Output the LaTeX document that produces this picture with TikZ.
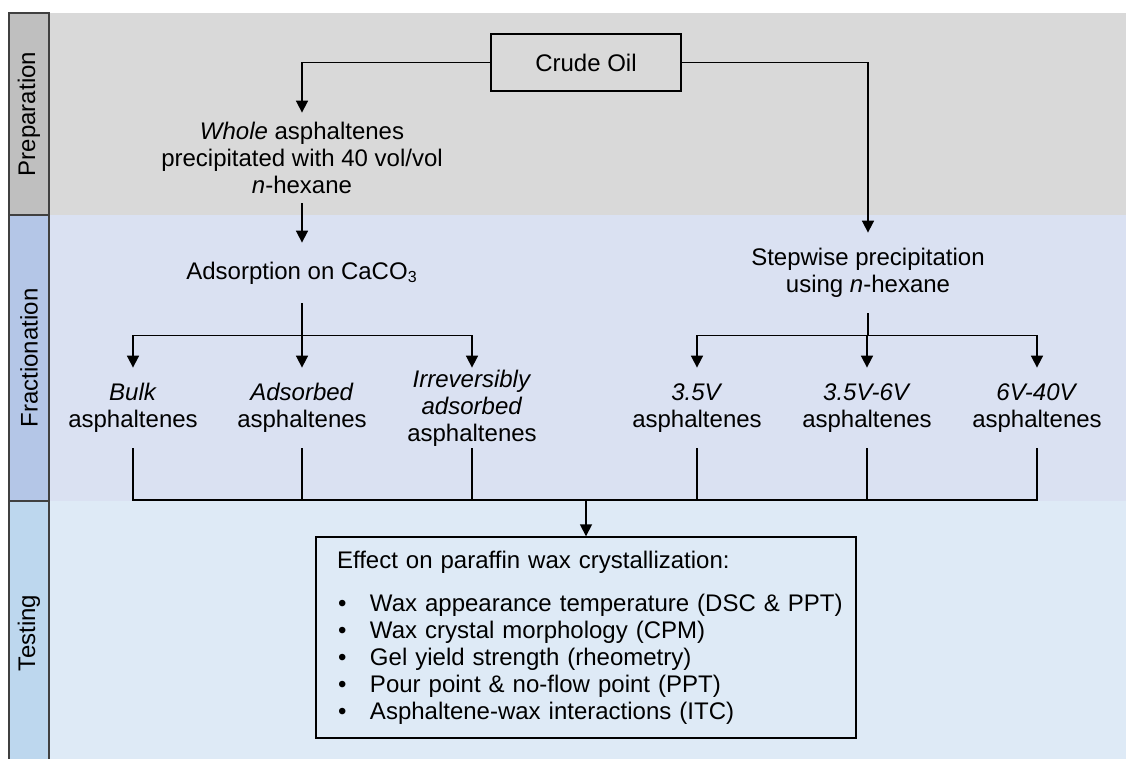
\documentclass[tikz,border=0pt]{standalone}
\usepackage{fontspec}
\setmainfont{Liberation Sans}
\usetikzlibrary{arrows.meta, positioning}
\definecolor{preplane}{RGB}{191,191,191}
\definecolor{prepfill}{RGB}{217,217,217}
\definecolor{fraclane}{RGB}{180,198,231}
\definecolor{fracfill}{RGB}{218,225,242}
\definecolor{testlane}{RGB}{189,215,238}
\definecolor{testfill}{RGB}{222,234,246}
\definecolor{laneline}{RGB}{64,64,64}

\begin{document}
\begin{tikzpicture}[x=0.5pt, y=-0.5pt,
        every node/.style={font=\fontsize{12pt}{13.5pt}\selectfont},
        lbl/.style={align=center, inner sep=0pt},
        frac/.style={lbl, minimum height=40pt},
        box/.style={draw, line width=0.7pt},
        flow/.style={line width=0.85pt},
        >={Triangle[length=6pt, width=6pt]}]
        \useasboundingbox (0,0) rectangle (1126,759);
        % Swim lanes
        \foreach \ytop/\ybot/\lane/\cellcol/\bandcol in {13/215/Preparation/preplane/prepfill,
                215/501/Fractionation/fraclane/fracfill, 501/765/Testing/testlane/testfill} {
            \fill[\bandcol] (49,\ytop) rectangle (1126,\ybot);
            \draw[fill=\cellcol, draw=laneline, line width=0.75pt] (9,\ytop) rectangle (49,\ybot);
            \node[rotate=90] (\lane) at (29,{(\ytop+\ybot)/2}) {\lane};
        }

        % Preparation
        \node[box, minimum width=95pt, minimum height=28.5pt] (crude) at (586,62.5) {Crude Oil};
        \node[lbl, minimum height=45pt] (whole) at (302,158)
            {\textit{Whole} asphaltenes\\precipitated with 40 vol/vol\\\textit{n}-hexane};
        \node[lbl, minimum height=30pt] (adsorb) at (302,273) {Adsorption on CaCO\textsubscript{3}};
        \node[lbl, minimum height=40pt] (stepwise) at (868,273) {Stepwise precipitation\\using \textit{n}-hexane};
        \draw[flow, ->] (crude.west) -| (whole.north);
        \draw[flow, ->] (crude.east) -| (stepwise.north);
        \draw[flow, ->] (whole.south) -- (adsorb.north);

        % Fractions
        \foreach \name/\x/\txt in {bulk/133/\textit{Bulk}\\asphaltenes,
                adsorbed/302/\textit{Adsorbed}\\asphaltenes,
                irrev/472/\textit{Irreversibly}\\\textit{adsorbed}\\asphaltenes,
                fa/697/\textit{3.5V}\\asphaltenes,
                fb/867/\textit{3.5V-6V}\\asphaltenes,
                fc/1037/\textit{6V-40V}\\asphaltenes} {
            \node[frac] (\name) at (\x,408) {\txt};
        }
        \foreach \name in {bulk, adsorbed, irrev}
            \draw[flow, ->] (adsorb.south) -- ++(0,32) -| (\name.north);
        \foreach \name in {fa, fb, fc}
            \draw[flow, ->] (stepwise.south) -- ++(0,22) -| (\name.north);

        % Testing
        \node[box, text width=268pt, inner xsep=1pt, minimum height=100.5pt, align=left] (effects) at (586,637.5)
            {\hspace*{9.5pt}Effect on paraffin wax crystallization:\\[8pt]
            \makebox[26pt][l]{\hspace*{10pt}\textbullet}Wax appearance temperature (DSC \& PPT)\\
            \makebox[26pt][l]{\hspace*{10pt}\textbullet}Wax crystal morphology (CPM)\\
            \makebox[26pt][l]{\hspace*{10pt}\textbullet}Gel yield strength (rheometry)\\
            \makebox[26pt][l]{\hspace*{10pt}\textbullet}Pour point \& no-flow point (PPT)\\
            \makebox[26pt][l]{\hspace*{10pt}\textbullet}Asphaltene-wax interactions (ITC)};
        \coordinate (join) at (586,500);
        \draw[flow] (bulk.south) |- (join) -| (fc.south);
        \foreach \name in {adsorbed, irrev, fa, fb}
            \draw[flow] (\name.south) -- (\name.south |- join);
        \draw[flow, ->] (join) -- (effects.north);
\end{tikzpicture}
\end{document}
